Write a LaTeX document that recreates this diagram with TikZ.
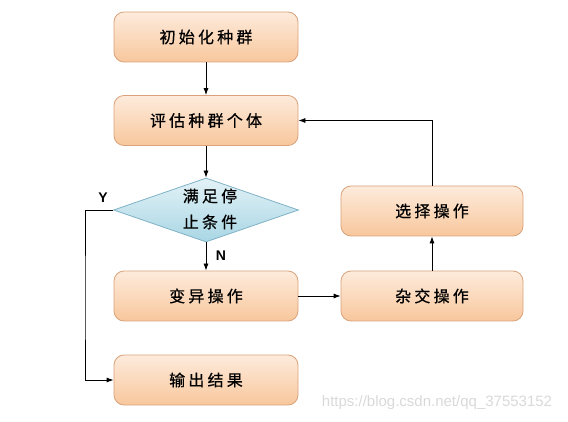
\documentclass[tikz,border=0pt]{standalone}
\usepackage{fontspec}
\setmainfont{Liberation Sans}
\newfontfamily\cjk[LetterSpace=20,FakeBold=0.6]{Noto Sans CJK SC}
\usetikzlibrary{arrows.meta,shapes.geometric}
\definecolor{boxtop}{HTML}{FDEBDC}
\definecolor{boxbot}{HTML}{F8C79C}
\definecolor{boxline}{HTML}{D9A27A}
\definecolor{dtop}{HTML}{E3F2F7}
\definecolor{dbot}{HTML}{A9D6E4}
\definecolor{dline}{HTML}{7FB2C6}
\tikzset{
  x=1pt,y=-1pt,
  pbox/.style={rectangle,rounded corners=10pt,minimum width=184pt,minimum height=50pt,
    top color=boxtop,bottom color=boxbot,draw=boxline,line width=0.8pt,
    font=\cjk\fontsize{16}{18}\selectfont},
  dbox/.style={diamond,aspect=2.95,minimum width=185pt,minimum height=64pt,inner sep=0pt,
    top color=dtop,bottom color=dbot,draw=dline,line width=0.8pt},
  dtext/.style={font=\cjk\fontsize{16}{18}\selectfont},
  conn/.style={-{Latex[length=7pt,width=5pt]},line width=0.8pt,black},
  lab/.style={font=\fontsize{14}{16}\selectfont\bfseries}
}
\begin{document}
\begin{tikzpicture}
\useasboundingbox (0,0) rectangle (568,422);
\node[pbox] (init) at (206,37) {初始化种群};
\node[pbox] (eval) at (206,120.5) {评估种群个体};
\node[dbox] (cond) at (206,210) {};
\node[dtext] (cond1) at (210,196) {满足停};
\node[dtext] (cond2) at (210,222) {止条件};
\node[pbox] (mut) at (206,296) {变异操作};
\node[pbox] (out) at (206,380) {输出结果};
\node[pbox,minimum width=182pt] (sel) at (432,211) {选择操作};
\node[pbox,minimum width=182pt] (cro) at (432,296) {杂交操作};
\coordinate (ycorner) at (85,300);
\draw[conn] (init) -- (eval);
\draw[conn] (eval) -- (cond);
\draw[conn] (cond) -- (mut);
\draw[conn] (mut) -- (cro);
\draw[conn] (cro) -- (sel);
\draw[conn] (sel.north) |- (eval.east);
\draw[conn] (cond.west) -| (ycorner) |- (out.west);
\node[lab] (ylab) at (103,198) {Y};
\node[lab] (nlab) at (221,256) {N};
\node[font=\fontsize{15}{17}\selectfont,text=black!15] (wm) at (437,403) {https://blog.csdn.net/qq\_37553152};
\end{tikzpicture}
\end{document}
